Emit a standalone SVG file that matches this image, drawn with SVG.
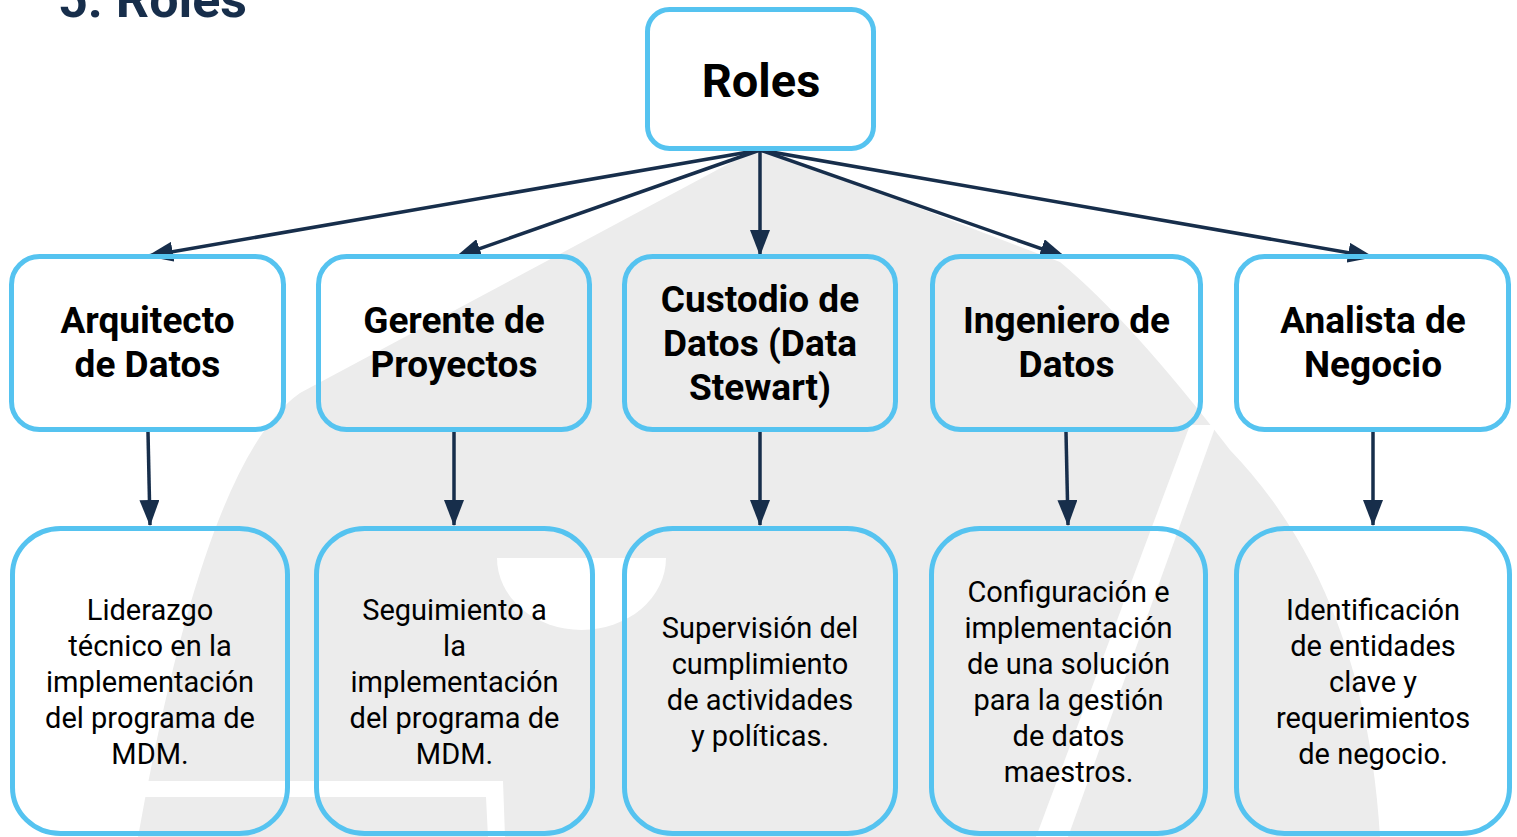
<svg xmlns="http://www.w3.org/2000/svg" width="1517" height="837" viewBox="0 0 1517 837">
<defs>
<style>
.box{fill:none;stroke:#55c3f0;stroke-width:5}
.title{font-family:Roboto,"Liberation Sans",sans-serif;font-weight:700;font-size:37px;fill:#000;text-anchor:middle}
.desc{font-family:Roboto,"Liberation Sans",sans-serif;font-weight:400;font-size:29px;fill:#000;text-anchor:middle}
.conn{stroke:#172e4b;stroke-width:3.5;fill:none;marker-end:url(#ah)}
</style>
<marker id="ah" viewBox="0 0 26 20" refX="25" refY="10" markerWidth="26" markerHeight="20" markerUnits="userSpaceOnUse" orient="auto">
<path d="M0,0 L26,10 L0,20 Z" fill="#172e4b"/>
</marker>
</defs>
<rect width="1517" height="837" fill="#fff"/>
<g id="watermark">
<path d="M760,147 L300,393 Q205,460 138,837 L1380,837 Q1365,590 1230,450 Q1130,320 1060,262 Z" fill="#ececec"/>
<path d="M1190,425 L1216,425 L1068,837 L1036,837 Z" fill="#fff"/>
<path d="M497,558 A84.5,72 0 0 0 666,558 Z" fill="#fff"/>
<path d="M107,781 L503,781 L505,837 L488,837 L486,797 L107,797 Z" fill="#fff"/>
</g>
<text x="58" y="17" font-family="Roboto,'Liberation Sans',sans-serif" font-weight="700" font-size="52" fill="#172e4b">5. Roles</text>
<g id="connectors">
<path class="conn" d="M760,150 L148,256"/>
<path class="conn" d="M760,150 L456,257"/>
<path class="conn" d="M760,150 L760,255"/>
<path class="conn" d="M760,150 L1065,257"/>
<path class="conn" d="M760,150 L1373,257"/>
<path class="conn" d="M148,432 L150,525"/>
<path class="conn" d="M454,432 L454,525"/>
<path class="conn" d="M760,432 L760,525"/>
<path class="conn" d="M1066,432 L1068,525"/>
<path class="conn" d="M1373,432 L1373,525"/>
</g>
<g id="roles">
<rect class="box" x="647.5" y="9.5" width="226" height="139" rx="22"/>
<text x="761" y="97" font-family="Roboto,'Liberation Sans',sans-serif" font-weight="700" font-size="47" text-anchor="middle" fill="#000">Roles</text>
</g>
<g id="arquitecto">
<rect class="box" x="11.5" y="256.5" width="272" height="173" rx="28"/>
<text class="title" x="147.5" y="333">Arquitecto</text>
<text class="title" x="147.5" y="377">de Datos</text>
</g>
<g id="gerente">
<rect class="box" x="318.5" y="256.5" width="271" height="173" rx="28"/>
<text class="title" x="454" y="333">Gerente de</text>
<text class="title" x="454" y="377">Proyectos</text>
</g>
<g id="custodio">
<rect class="box" x="624.5" y="256.5" width="271" height="173" rx="28"/>
<text class="title" x="760" y="312">Custodio de</text>
<text class="title" x="760" y="356">Datos (Data</text>
<text class="title" x="760" y="400">Stewart)</text>
</g>
<g id="ingeniero">
<rect class="box" x="932.5" y="256.5" width="268" height="173" rx="28"/>
<text class="title" x="1066.5" y="333">Ingeniero de</text>
<text class="title" x="1066.5" y="377">Datos</text>
</g>
<g id="analista">
<rect class="box" x="1236.5" y="256.5" width="272" height="173" rx="28"/>
<text class="title" x="1373" y="333">Analista de</text>
<text class="title" x="1373" y="377">Negocio</text>
</g>
<g id="desc-arquitecto">
<rect class="box" x="12.5" y="528.5" width="275" height="305" rx="48" ry="46"/>
<text class="desc" x="150" y="620">Liderazgo</text>
<text class="desc" x="150" y="656">técnico en la</text>
<text class="desc" x="150" y="692">implementación</text>
<text class="desc" x="150" y="728">del programa de</text>
<text class="desc" x="150" y="764">MDM.</text>
</g>
<g id="desc-gerente">
<rect class="box" x="316.5" y="528.5" width="276" height="305" rx="48" ry="46"/>
<text class="desc" x="454.5" y="620">Seguimiento a</text>
<text class="desc" x="454.5" y="656">la</text>
<text class="desc" x="454.5" y="692">implementación</text>
<text class="desc" x="454.5" y="728">del programa de</text>
<text class="desc" x="454.5" y="764">MDM.</text>
</g>
<g id="desc-custodio">
<rect class="box" x="624.5" y="528.5" width="271" height="305" rx="48" ry="46"/>
<text class="desc" x="760" y="638">Supervisión del</text>
<text class="desc" x="760" y="674">cumplimiento</text>
<text class="desc" x="760" y="710">de actividades</text>
<text class="desc" x="760" y="746">y políticas.</text>
</g>
<g id="desc-ingeniero">
<rect class="box" x="931.5" y="528.5" width="274" height="305" rx="48" ry="46"/>
<text class="desc" x="1068.5" y="602">Configuración e</text>
<text class="desc" x="1068.5" y="638">implementación</text>
<text class="desc" x="1068.5" y="674">de una solución</text>
<text class="desc" x="1068.5" y="710">para la gestión</text>
<text class="desc" x="1068.5" y="746">de datos</text>
<text class="desc" x="1068.5" y="782">maestros.</text>
</g>
<g id="desc-analista">
<rect class="box" x="1236.5" y="528.5" width="273" height="305" rx="48" ry="46"/>
<text class="desc" x="1373" y="620">Identificación</text>
<text class="desc" x="1373" y="656">de entidades</text>
<text class="desc" x="1373" y="692">clave y</text>
<text class="desc" x="1373" y="728">requerimientos</text>
<text class="desc" x="1373" y="764">de negocio.</text>
</g>
</svg>
